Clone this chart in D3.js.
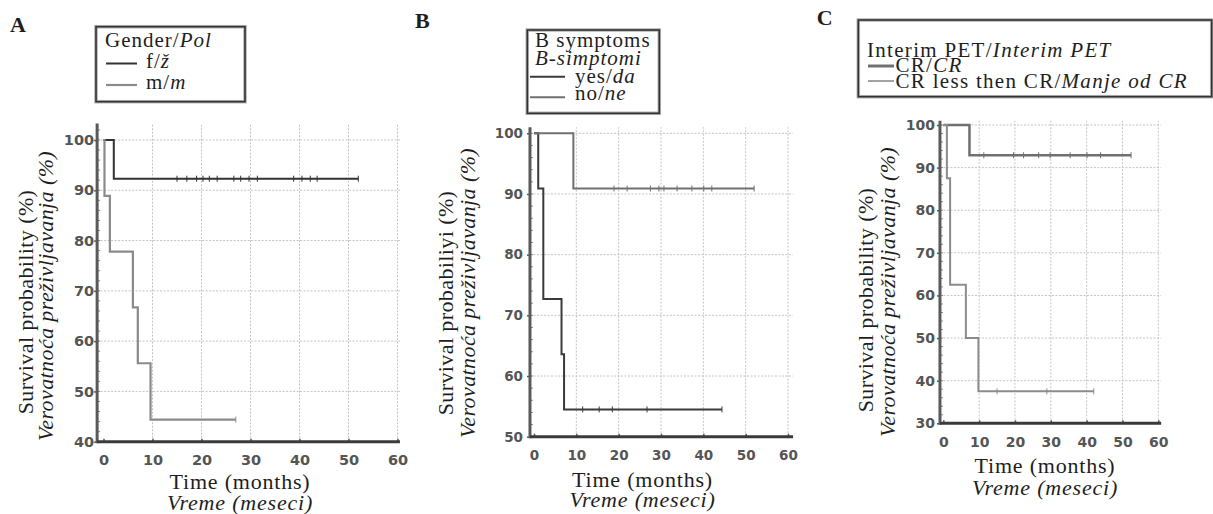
<!DOCTYPE html>
<html>
<head>
<meta charset="utf-8">
<script src="https://cdn.jsdelivr.net/npm/d3@7"></script>
<style>
  html, body { margin: 0; padding: 0; background: #fff; }
  svg { display: block; }
</style>
</head>
<body>
<svg id="chart" width="1213" height="514"></svg>
<script>
// Kaplan-Meier curves, three panels (A gender, B B-symptoms, C interim PET)
const xTicks = [0, 10, 20, 30, 40, 50, 60];
const yTicksA = [40, 50, 60, 70, 80, 90, 100];
const yTicksB = [50, 60, 70, 80, 90, 100];
const yTicksC = [30, 40, 50, 60, 70, 80, 90, 100];

// A: f/ž
const femTimes = [0, 2.1];
const femSurv = [100, 92.3];
const femEnd = 52;
const femCensor = [15, 17, 19, 20.3, 21.6, 23.2, 26.6, 28, 29.7, 31.4, 38.8, 40.5, 42.2, 43.6];
// A: m/m
const maleTimes = [0, 0.2, 1.3, 6, 7, 9.6];
const maleSurv = [100, 88.9, 77.8, 66.7, 55.6, 44.4];
const maleEnd = 27;
const maleCensor = [];

// B: yes/da
const yesTimes = [0, 1, 2.2, 6.5, 7.1];
const yesSurv = [100, 90.9, 72.7, 63.6, 54.5];
const yesEnd = 44.4;
const yesCensor = [11.5, 15.4, 18.5, 26.7];
// B: no/ne
const noTimes = [0, 9.3];
const noSurv = [100, 90.9];
const noEnd = 52;
const noCensor = [18.9, 22, 27.5, 29.5, 30.7, 33.8, 37.3, 40.1, 42];

// C: CR/CR
const crTimes = [0, 7.3];
const crSurv = [100, 92.9];
const crEnd = 52.4;
const crCensor = [11.3, 19.6, 22.4, 26.6, 29.8, 35.4, 40.1, 43.9];
// C: less than CR
const lessTimes = [0, 1, 1.9, 6.3, 9.8];
const lessSurv = [100, 87.5, 62.5, 50, 37.5];
const lessEnd = 42;
const lessCensor = [15, 28.9];

const serif = "'Liberation Serif', 'Times New Roman', Times, serif";
const sans = "'DejaVu Sans', Arial, sans-serif";
const svg = d3.select('#chart');

function label(parent, x, y, parts, o = {}) {
  const t = parent.append('text')
    .attr('transform', `translate(${x},${y})${o.rotate ? ' rotate(-90)' : ''}`)
    .style('font-family', serif)
    .attr('font-size', o.size || 20)
    .attr('letter-spacing', o.ls || 0)
    .attr('font-weight', o.bold ? 'bold' : null)
    .attr('text-anchor', o.anchor || 'start')
    .attr('fill', '#1e1e1e');
  parts.forEach(p => t.append('tspan').text(p[0]).attr('font-style', p[1] ? 'italic' : null));
  return t;
}

function stepPoints(c) {
  const pts = c.times.map((t, i) => [t, c.surv[i]]);
  pts.push([c.end, c.surv[c.surv.length - 1]]);
  return pts;
}

function survAt(c, t) {
  let s = c.surv[0];
  c.times.forEach((tt, i) => { if (tt <= t) s = c.surv[i]; });
  return s;
}

function drawPanel(p) {
  const x = d3.scaleLinear().domain([0, 60]).range(p.xRange);
  const y = d3.scaleLinear().domain(p.yDomain).range(p.yRange);
  const g = svg.append('g');
  const xl = x(p.xMin), xr = x(p.xMax), yb = y(p.yDomain[0]), yt = y(p.yTop);

  // dotted grid
  g.append('g').selectAll('line').data(xTicks.slice(1)).join('line')
    .attr('x1', d => x(d)).attr('x2', d => x(d)).attr('y1', yb).attr('y2', yt)
    .attr('stroke', '#c4c4c4').attr('stroke-width', 1).attr('stroke-dasharray', '2,1.5');
  g.append('g').selectAll('line').data(p.yTicks.slice(1)).join('line')
    .attr('x1', xl).attr('x2', xr).attr('y1', d => y(d)).attr('y2', d => y(d))
    .attr('stroke', '#c4c4c4').attr('stroke-width', 1).attr('stroke-dasharray', '2,1.5');

  // axes
  const ya = g.append('g').attr('transform', `translate(${xl},0)`)
    .call(d3.axisLeft(y).tickValues(p.yTicks).tickSizeInner(3).tickSizeOuter(0).tickPadding(p.yPad));
  const xa = g.append('g').attr('transform', `translate(0,${yb})`)
    .call(d3.axisBottom(x).tickValues(xTicks).tickSizeInner(-3).tickSizeOuter(0).tickPadding(p.xPad));
  [ya, xa].forEach(a => {
    a.select('.domain').remove();
    a.selectAll('line').attr('stroke', '#555').attr('stroke-width', 1.5);
    a.selectAll('text').style('font-family', sans).attr('font-weight', 'bold')
      .attr('font-size', p.tickSize).attr('fill', '#555');
  });
  // minor ticks along y
  g.append('g').selectAll('line').data(d3.range(p.yDomain[0] + 2, p.yTop, 2)).join('line')
    .attr('x1', xl).attr('x2', xl + 3).attr('y1', d => y(d)).attr('y2', d => y(d))
    .attr('stroke', '#888').attr('stroke-width', 1);
  g.append('line').attr('x1', xl).attr('x2', xl).attr('y1', yb + 1.5).attr('y2', yt)
    .attr('stroke', '#5a5a5a').attr('stroke-width', 3);
  g.append('line').attr('x1', xl).attr('x2', xr).attr('y1', yb).attr('y2', yb)
    .attr('stroke', '#3a3a3a').attr('stroke-width', 3);

  // curves
  const line = d3.line().x(d => x(d[0])).y(d => y(d[1])).curve(d3.curveStepAfter);
  p.curves.forEach(c => {
    g.append('path').attr('d', line(stepPoints(c)))
      .attr('fill', 'none').attr('stroke', c.color).attr('stroke-width', c.width);
    g.append('g').selectAll('line').data(c.censor.concat([c.end])).join('line')
      .attr('x1', d => x(d)).attr('x2', d => x(d))
      .attr('y1', d => y(survAt(c, d)) - 3).attr('y2', d => y(survAt(c, d)) + 3)
      .attr('stroke', c.color).attr('stroke-width', 1);
  });

  // axis titles
  label(g, p.yTitle[0], p.yTitle[1], [[p.yRoman, 0]], { rotate: true, anchor: 'middle', size: 22, ls: 0.4 });
  label(g, p.yTitle[2], p.yTitle[3], [['Verovatnoća preživljavanja (%)', 1]], { rotate: true, anchor: 'middle', size: 22, ls: 0.4 });
  label(g, p.xTitle[0], p.xTitle[1], [['Time (months)', 0]], { anchor: 'middle', size: 22, ls: 0.8 });
  label(g, p.xTitle[0], p.xTitle[2], [['Vreme (meseci)', 1]], { anchor: 'middle', size: 22, ls: 0.8 });

  // legend
  const L = p.legend;
  g.append('rect').attr('x', L.box[0]).attr('y', L.box[1]).attr('width', L.box[2]).attr('height', L.box[3])
    .attr('fill', '#fff').attr('stroke', '#b0b0b0').attr('stroke-width', 3.5);
  g.append('rect').attr('x', L.box[0]).attr('y', L.box[1]).attr('width', L.box[2]).attr('height', L.box[3])
    .attr('fill', 'none').attr('stroke', '#333').attr('stroke-width', 1.6);
  L.title.forEach((t, i) => label(g, L.titleX, L.titleY[i], t, { size: 21, ls: L.ls }));
  p.curves.forEach((c, i) => {
    g.append('line').attr('x1', L.lineX[0]).attr('x2', L.lineX[1])
      .attr('y1', L.lineY[i]).attr('y2', L.lineY[i])
      .attr('stroke', c.color).attr('stroke-width', c.legendWidth || c.width);
    label(g, L.textX, L.textY[i], c.name, { size: 21, ls: L.ls });
  });

  label(g, p.letter[1], p.letter[2], [[p.letter[0], 0]], { size: 22, bold: true, ls: 0 });
}

drawPanel({
  xRange: [103.5, 397.5], yDomain: [40, 100], yRange: [441.7, 140],
  xMin: -1.3, xMax: 60.5, yTop: 103.3, yTicks: yTicksA,
  tickSize: 14.5, yPad: 0, xPad: 12.7,
  yRoman: 'Survival probability (%)',
  yTitle: [32.7, 302, 52.5, 296], xTitle: [240, 489, 510],
  letter: ['A', 10, 31.7],
  legend: {
    box: [96, 26.7, 149, 75], ls: 1,
    title: [[['Gender/', 0], ['Pol', 1]]], titleX: 105, titleY: [47],
    lineX: [106, 137], lineY: [63.5, 85], textX: 146, textY: [68, 89]
  },
  curves: [
    { name: [['f/', 0], ['ž', 1]], times: femTimes, surv: femSurv, end: femEnd, censor: femCensor, color: '#333', width: 2 },
    { name: [['m/', 0], ['m', 1]], times: maleTimes, surv: maleSurv, end: maleEnd, censor: maleCensor, color: '#8a8a8a', width: 2.2 }
  ]
});

drawPanel({
  xRange: [534, 788], yDomain: [50, 100], yRange: [436.7, 133.3],
  xMin: -0.95, xMax: 61.2, yTop: 101, yTicks: yTicksB,
  tickSize: 13.5, yPad: 4, xPad: 13.8,
  yRoman: 'Survival probabiliyi (%)',
  yTitle: [453.3, 303, 475, 293], xTitle: [642.5, 486.7, 506.7],
  letter: ['B', 415, 28.3],
  legend: {
    box: [527.3, 30, 132, 83.3], ls: 1,
    title: [[['B symptoms', 0]], [['B-simptomi', 1]]], titleX: 535, titleY: [47, 65],
    lineX: [530, 565], lineY: [76.7, 97.3], textX: 575, textY: [83.3, 100]
  },
  curves: [
    { name: [['yes/', 0], ['da', 1]], times: yesTimes, surv: yesSurv, end: yesEnd, censor: yesCensor, color: '#3a3a3a', width: 2 },
    { name: [['no/', 0], ['ne', 1]], times: noTimes, surv: noSurv, end: noEnd, censor: noCensor, color: '#707070', width: 2 }
  ]
});

drawPanel({
  xRange: [943.3, 1158.3], yDomain: [30, 100], yRange: [423.3, 125],
  xMin: -0.93, xMax: 60.8, yTop: 101, yTicks: yTicksC,
  tickSize: 14, yPad: 2, xPad: 13.4,
  yRoman: 'Survival probability (%)',
  yTitle: [873.3, 300, 895, 292], xTitle: [1045, 473.3, 495],
  letter: ['C', 816.7, 25],
  legend: {
    box: [858.3, 20, 353.4, 76.7], ls: 1.3,
    title: [[['Interim PET/', 0], ['Interim PET', 1]]], titleX: 867, titleY: [57],
    lineX: [868, 894], lineY: [66, 81], textX: 895.5, textY: [72, 87.5]
  },
  curves: [
    { name: [['CR/', 0], ['CR', 1]], times: crTimes, surv: crSurv, end: crEnd, censor: crCensor, color: '#707070', width: 2.5, legendWidth: 3 },
    { name: [['CR less then CR/', 0], ['Manje od CR', 1]], times: lessTimes, surv: lessSurv, end: lessEnd, censor: lessCensor, color: '#8c8c8c', width: 2, legendWidth: 1.6 }
  ]
});
</script>
</body>
</html>
